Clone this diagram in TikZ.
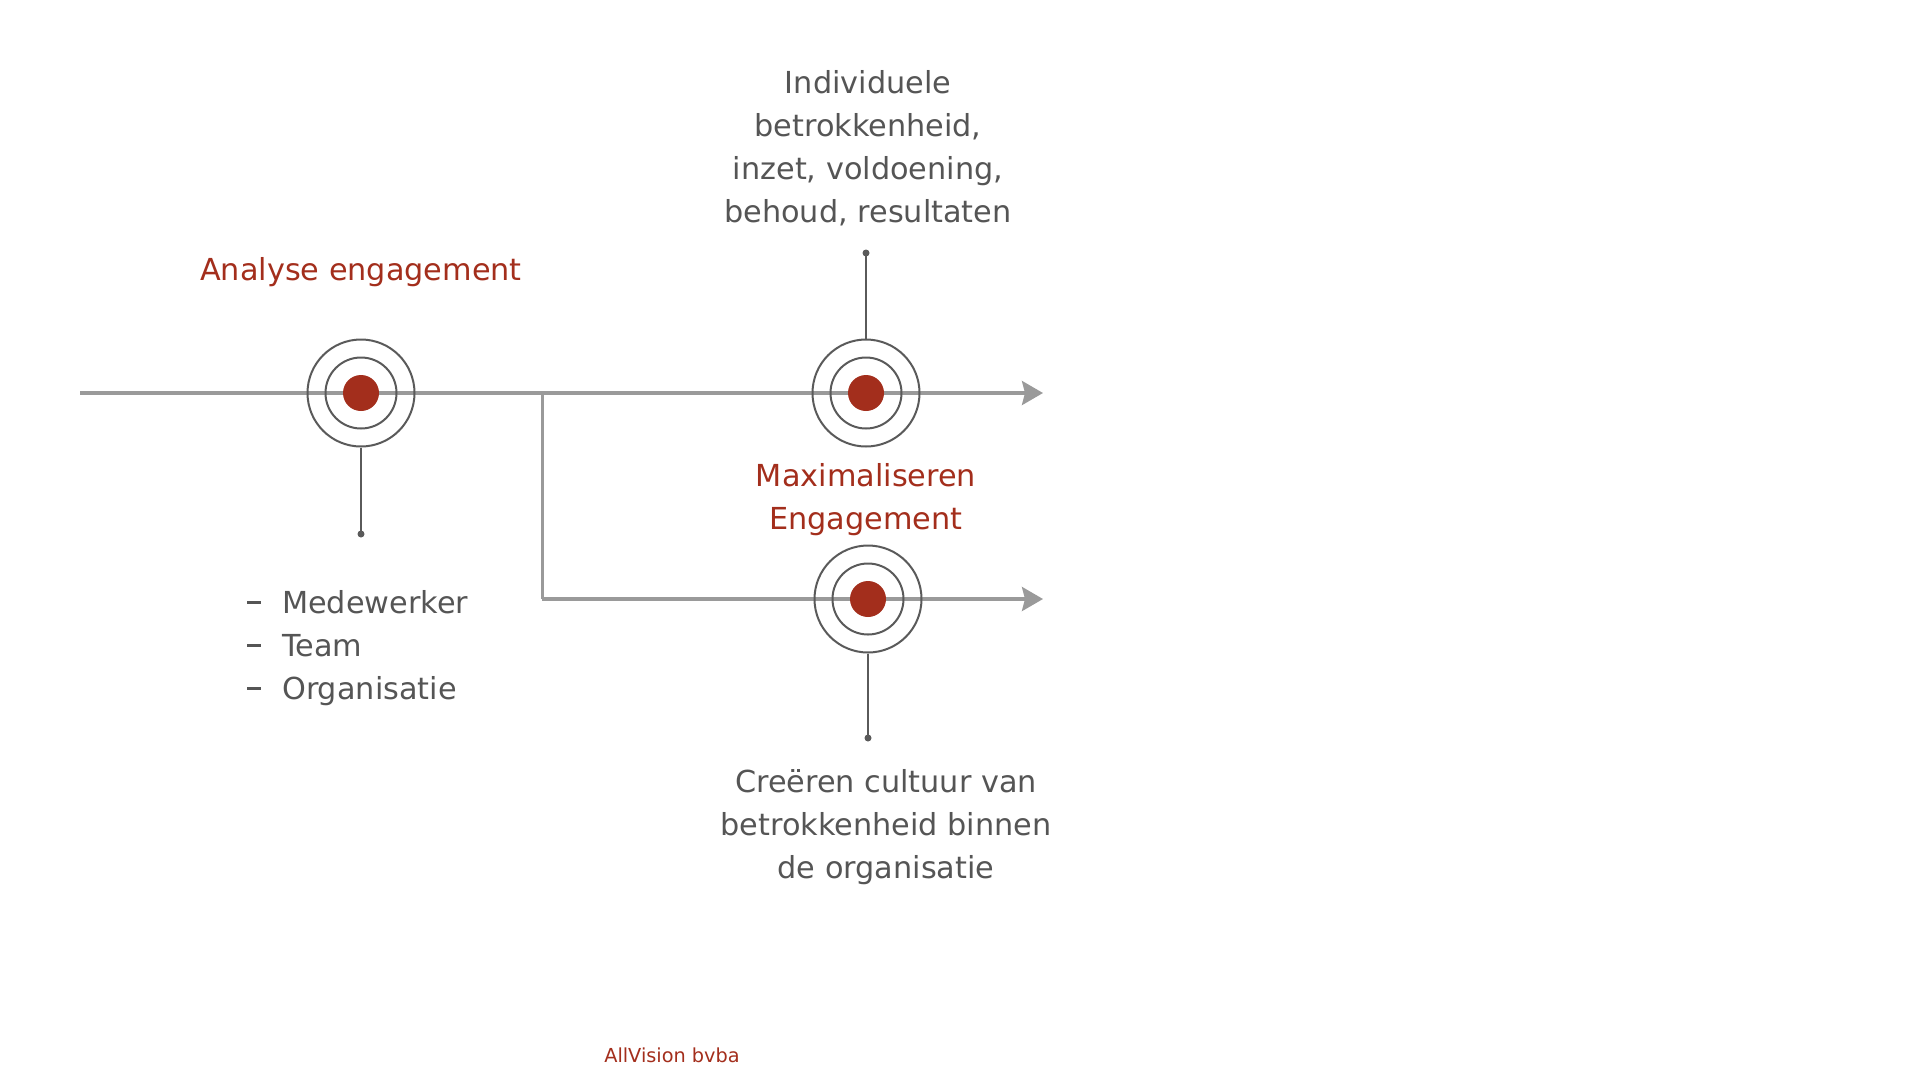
\documentclass[tikz,border=0pt]{standalone}
\usepackage{fontspec}
\setmainfont{DejaVu Sans}
\usetikzlibrary{arrows.meta}
\definecolor{txtgray}{HTML}{555555}
\definecolor{ringgray}{HTML}{5A5A5A}
\definecolor{linegray}{HTML}{9A9A9A}
\definecolor{accred}{HTML}{A32E1C}
\newcommand{\bdash}{\makebox[35pt][l]{\rule[9pt]{14pt}{3.2pt}}}
\begin{document}
\begin{tikzpicture}[x=1pt,y=-1pt,
  txt/.style={text=txtgray,font=\fontsize{30.3}{43}\selectfont,align=center,inner sep=0pt},
  redtxt/.style={text=accred,font=\fontsize{30.3}{43}\selectfont,align=center,inner sep=0pt},
  ringouter/.style={circle,draw=ringgray,line width=2pt,minimum size=107pt,inner sep=0pt},
  ringinner/.style={circle,draw=ringgray,line width=2pt,minimum size=71pt,inner sep=0pt},
  bull/.style={circle,fill=accred,minimum size=36pt,inner sep=0pt},
  axis/.style={draw=linegray,line width=3.5pt,-{Stealth[length=21pt,width=24pt,inset=3pt]}},
  branch/.style={draw=linegray,line width=3pt},
  stem/.style={draw=ringgray,line width=2pt},
  stemdot/.style={circle,fill=ringgray,minimum size=7pt,inner sep=0pt}
]
\useasboundingbox (0,0) rectangle (1920,1080);
% coordinates
\coordinate (start) at (80,393);
\coordinate (end1) at (1043,393);
\coordinate (br) at (542,393);
\coordinate (end2) at (1043,599);
% axes
\draw[axis] (start) -- (end1);
\draw[branch] (br) -- (542,599) coordinate (corner);
\draw[axis] (corner) -- (end2);
% targets
\node[ringouter] (t1o) at (361,393) {};
\node[ringinner] (t1m) at (361,393) {};
\node[bull] (t1d) at (361,393) {};
\node[ringouter] (t2o) at (866,393) {};
\node[ringinner] (t2m) at (866,393) {};
\node[bull] (t2d) at (866,393) {};
\node[ringouter] (t3o) at (868,599) {};
\node[ringinner] (t3m) at (868,599) {};
\node[bull] (t3d) at (868,599) {};
% stems
\node[stemdot] (s1) at (361,534) {};
\node[stemdot] (s2) at (866,253) {};
\node[stemdot] (s3) at (868,738) {};
\draw[stem] (t1o.south) -- (s1.center);
\draw[stem] (t2o.north) -- (s2.center);
\draw[stem] (t3o.south) -- (s3.center);
% texts
\node[redtxt] (l1) at (361,272) {Analyse engagement};
\node[txt,anchor=north] (l2) at (868,70) {Individuele\\betrokkenheid,\\inzet, voldoening,\\behoud, resultaten};
\node[redtxt,anchor=north] (l3) at (866,463) {Maximaliseren\\Engagement};
\node[txt,anchor=north west,align=left] (l4) at (247,590) {\bdash Medewerker\\\bdash Team\\\bdash Organisatie};
\node[txt,anchor=north] (l5) at (886,769) {Creëren cultuur van\\betrokkenheid binnen\\de organisatie};
\node[text=accred,font=\fontsize{19.3}{22}\selectfont,inner sep=0pt] (foot) at (672,1055) {AllVision bvba};
\end{tikzpicture}
\end{document}
